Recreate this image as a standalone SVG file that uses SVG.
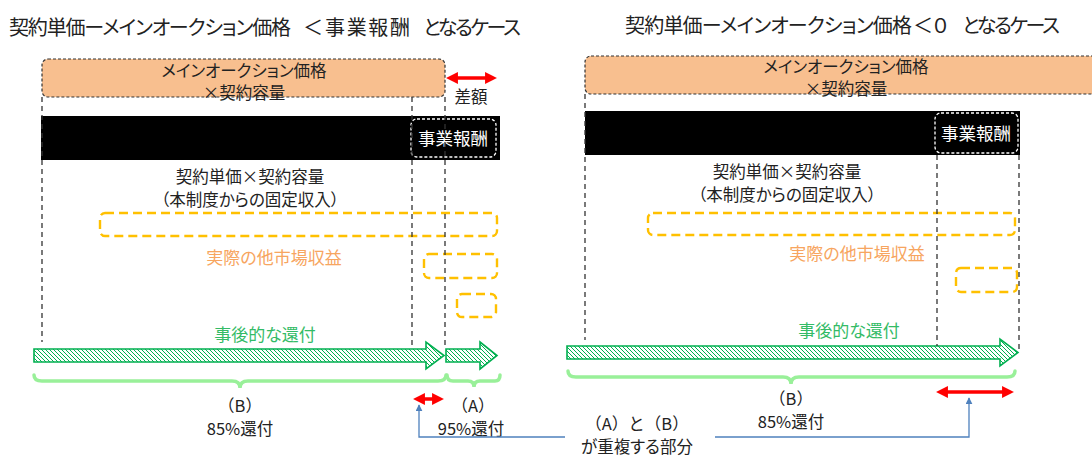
<svg xmlns="http://www.w3.org/2000/svg" width="1092" height="457" viewBox="0 0 1092 457">
<style>
text{font-family:"Noto Sans CJK JP","Noto Sans",sans-serif;fill:#222;font-feature-settings:"palt";}
.np{font-feature-settings:normal;}
.t{font-size:20px;}
.b{font-size:16.5px;text-anchor:middle;}
.w{fill:#fff;font-size:17.5px;text-anchor:middle;}
.g{fill:#33BB66;font-size:17px;text-anchor:middle;}
.o{fill:#F7A560;font-size:17px;text-anchor:middle;}
.ob{fill:#F8BF8F;stroke:#333;stroke-width:1.2;stroke-dasharray:3 2;}
.blk{fill:#000;}
.wb{fill:none;stroke:#fff;stroke-width:1.3;stroke-dasharray:3 2;}
.vd{stroke:#333;stroke-width:1.3;stroke-dasharray:5 4;fill:none;}
.yb{fill:none;stroke:#FFC000;stroke-width:2.4;stroke-dasharray:9 5;}
.ar{fill:url(#hatch);stroke:#00B050;stroke-width:1.6;stroke-linejoin:miter;}
.br{fill:none;stroke:#99F099;stroke-width:3.5;stroke-linecap:round;}
.red{stroke:#FF0000;stroke-width:3.5;marker-start:url(#rh);marker-end:url(#rh);}
.blue{fill:none;stroke:#4F81BD;stroke-width:1.3;marker-end:url(#bh);}
</style>
<defs>
<pattern id="hatch" patternUnits="userSpaceOnUse" width="4" height="4">
<rect width="4" height="4" fill="#fff"/>
<path d="M-1,-1 L5,5 M-1,3 L1,5 M3,-1 L5,1" stroke="#00B050" stroke-width="1"/>
</pattern>
<marker id="rh" viewBox="0 0 10 10" refX="5" refY="5" markerWidth="3.4" markerHeight="3.4" orient="auto-start-reverse" markerUnits="strokeWidth">
<path d="M0,0 L10,5 L0,10 z" fill="#FF0000"/>
</marker>
<marker id="bh" viewBox="0 0 10 10" refX="9" refY="5" markerWidth="7" markerHeight="7" orient="auto" markerUnits="userSpaceOnUse">
<path d="M0,0 L10,5 L0,10 z" fill="#4F81BD"/>
</marker>
</defs>

<g id="title-left"><text class="t" y="35"><tspan x="9" textLength="282">契約単価ーメインオークション価格</tspan><tspan x="303">＜</tspan><tspan x="325" textLength="85">事業報酬</tspan><tspan x="423" textLength="98">となるケース</tspan></text></g>
<g id="title-right"><text class="t" y="33"><tspan x="625" textLength="287">契約単価ーメインオークション価格</tspan><tspan x="913">＜０</tspan><tspan x="962" textLength="98">となるケース</tspan></text></g>

<!-- left panel -->
<g id="main-auction-left">
<rect class="ob" x="42" y="59" width="403" height="38" rx="6"/>
<text class="b" x="244" y="77">メインオークション価格</text>
<text class="b" x="244" y="99">×契約容量</text>
</g>
<g id="black-bar-left">
<rect class="blk" x="41" y="116" width="459" height="44"/>
</g>
<g id="fee-left">
<rect class="wb" x="411" y="119" width="85" height="38" rx="6"/>
<text class="w" x="453" y="145">事業報酬</text>
</g>
<g id="fixed-left">
<text class="b" x="250" y="183">契約単価×契約容量</text>
<text class="b" x="250" y="206">（本制度からの固定収入）</text>
</g>
<g id="other-left">
<rect class="yb" x="100" y="213" width="397" height="23" rx="5"/>
<rect class="yb" x="424" y="254" width="73" height="24" rx="5"/>
<rect class="yb" x="457" y="294" width="39" height="23" rx="5"/>
<text class="o" x="274" y="264">実際の他市場収益</text>
</g>
<g id="refund-left">
<text class="g" x="265" y="341">事後的な還付</text>
<path class="ar" d="M34,349 L426,349 L426,342 L444,355.5 L426,369 L426,362 L34,362 Z"/>
<path class="ar" d="M446,349 L480,349 L480,342 L497,355.5 L480,369 L480,362 L446,362 Z"/>
</g>
<g id="label-B-left">
<text class="b np" x="240" y="412">（B）</text>
<text class="b" x="240" y="435">85%還付</text>
</g>
<g id="label-A-left">
<text class="b np" x="473" y="412">（A）</text>
<text class="b" x="471" y="435">95%還付</text>
</g>
<g id="diff-left">
<text class="b" x="471" y="103">差額</text>
</g>

<!-- right panel -->
<g id="main-auction-right">
<rect class="ob" x="585" y="56" width="520" height="38" rx="6"/>
<text class="b" x="846" y="73">メインオークション価格</text>
<text class="b" x="846" y="95">×契約容量</text>
</g>
<g id="black-bar-right">
<rect class="blk" x="585" y="111" width="435" height="44"/>
</g>
<g id="fee-right">
<rect class="wb" x="935" y="113" width="83" height="40" rx="6"/>
<text class="w" x="976" y="140">事業報酬</text>
</g>
<g id="fixed-right">
<text class="b" x="787" y="178">契約単価×契約容量</text>
<text class="b" x="787" y="201">（本制度からの固定収入）</text>
</g>
<g id="other-right">
<rect class="yb" x="648" y="213" width="367" height="22" rx="5"/>
<rect class="yb" x="956" y="268" width="61" height="24" rx="5"/>
<text class="o" x="857" y="260">実際の他市場収益</text>
</g>
<g id="refund-right">
<text class="g" x="849" y="337">事後的な還付</text>
<path class="ar" d="M567,346 L1000,346 L1000,339 L1018,352.5 L1000,366 L1000,359 L567,359 Z"/>
</g>
<g id="label-B-right">
<text class="b np" x="791" y="405">（B）</text>
<text class="b" x="791" y="428">85%還付</text>
</g>
<g id="overlap-label">
<text class="b np" x="637" y="430">（A）と（B）</text>
<text class="b" x="637" y="453">が重複する部分</text>
</g>

<g id="connectors">
<line class="vd" x1="42" y1="97" x2="42" y2="342"/>
<line class="vd" x1="412" y1="97" x2="412" y2="349"/>
<line class="vd" x1="445" y1="97" x2="445" y2="349"/>
<line class="vd" x1="585" y1="94" x2="585" y2="340"/>
<line class="vd" x1="937" y1="155" x2="937" y2="346"/>
<line class="vd" x1="1019" y1="155" x2="1019" y2="352"/>
<line class="red" x1="452" y1="78" x2="491" y2="78"/>
<line class="red" x1="419" y1="399" x2="438" y2="399"/>
<line class="red" x1="942" y1="392" x2="1008" y2="392"/>
<path class="br" d="M34,375 Q34,381 42,381 L232,381 Q240,381 240,388 Q240,381 248,381 L438,381 Q446,381 446,375"/>
<path class="br" d="M447,375 Q447,381 453,381 L468,381 Q474,381 474,387 Q474,381 480,381 L495,381 Q500,381 500,375"/>
<path class="br" d="M568,371 Q568,377 576,377 L783,377 Q791,377 791,384 Q791,377 799,377 L1007,377 Q1015,377 1015,371"/>
<path class="blue" d="M565,437 L419,437 L419,405"/>
<path class="blue" d="M715,437 L969,437 L969,398"/>
</g>
</svg>
